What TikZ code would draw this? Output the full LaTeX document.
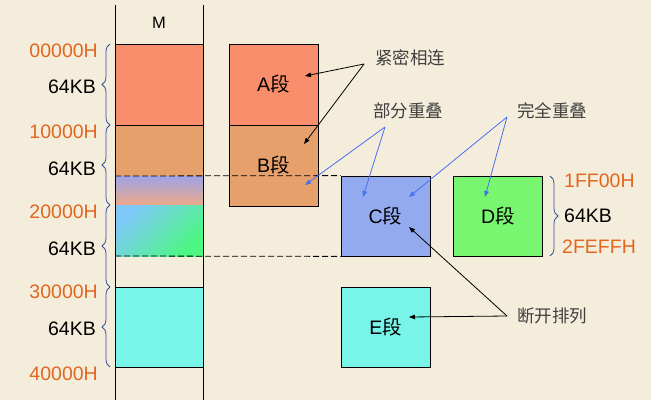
\documentclass[tikz,border=0pt]{standalone}
\usepackage{fontspec}
\setmainfont{Liberation Sans}
\newfontfamily\cjk{Noto Sans CJK SC}
\usetikzlibrary{arrows.meta,decorations.pathreplacing}

\definecolor{paper}{RGB}{245,237,220}
\definecolor{segA}{RGB}{249,142,108}
\definecolor{segB}{RGB}{229,160,108}
\definecolor{segC}{RGB}{148,170,238}
\definecolor{segD}{RGB}{120,246,112}
\definecolor{segE}{RGB}{120,244,232}
\definecolor{addrcol}{RGB}{226,102,30}
\definecolor{bracecol}{RGB}{48,80,160}
\definecolor{bluearrow}{RGB}{72,110,240}
\definecolor{notecol}{RGB}{64,64,64}

\begin{document}
\begin{tikzpicture}
        [%%%%%%%%%%%%%%%%%%%%%%%%%%%%%%
        x=1pt, y=-1pt,
        seg/.style={draw=black, line width=0.8pt, minimum width=89pt,
          minimum height=81pt, inner sep=0pt, font=\fontsize{19.5}{20}\selectfont},
        addr/.style={anchor=base east, inner sep=0pt, text=addrcol,
          font=\fontsize{19.5}{20}\selectfont},
        size/.style={anchor=base east, inner sep=0pt, font=\fontsize{19.5}{20}\selectfont},
        note/.style={inner sep=0pt, text=notecol, font=\cjk\fontsize{17.5}{18}\selectfont},
        tip/.style={-{Triangle[length=6pt,width=4.5pt]}, line width=0.8pt},
        curly/.style={decorate, decoration={brace, amplitude=8pt},
          draw=bracecol, line width=0.8pt},
        ]%%%%%%%%%%%%%%%%%%%%%%%%%%%%%%
        \useasboundingbox (0,0) rectangle (651,400);
        \fill[paper] (0,0) rectangle (651,400);

        % Memory column M
        \fill[segA] (115,44) rectangle (203,125);
        \fill[segB] (115,125) rectangle (203,176);
        \shade[top color={rgb,255:red,158;green,164;blue,230},
          bottom color={rgb,255:red,237;green,168;blue,138}] (115,176) rectangle (203,205);
        \shade[top color={rgb,255:red,128;green,200;blue,250},
          bottom color={rgb,255:red,76;green,248;blue,130}, shading angle=45]
          (115,205) rectangle (203,256);
        \fill[segE] (115,287) rectangle (203,367);
        \draw[line width=0.8pt] (115,5) -- (115,400);
        \draw[line width=0.8pt] (203,5) -- (203,400);
        \foreach \y in {44,125,287,367}{
          \draw[line width=0.8pt] (115,\y) -- (203,\y);
        }
        \node[font=\fontsize{16.5}{17}\selectfont] (M) at (159,23) {M};

        % Segments
        \node[seg, fill=segA] (A) at (273.5,84.5) {A{\cjk 段}};
        \node[seg, fill=segB] (B) at (273.5,165.5) {B{\cjk 段}};
        \node[seg, fill=segC, minimum height=80pt] (C) at (385.5,216) {C{\cjk 段}};
        \node[seg, fill=segD, minimum height=80pt] (D) at (498,216) {D{\cjk 段}};
        \node[seg, fill=segE, minimum height=80pt] (E) at (385.5,327) {E{\cjk 段}};

        % Lines
        \draw[dashed, line width=0.8pt, dash pattern=on 6pt off 3pt] (115,176) -- (C.north west);
        \draw[dashed, line width=0.8pt, dash pattern=on 6pt off 3pt] (115,256) -- (C.south west);

        % Braces
        \foreach \top/\bot in {44/125,125/205,205/287,287/367}{
          \draw[curly] (110,\bot) -- (110,\top);
        }
        \draw[curly] (550,176) -- (550,256);

        % Text
        \foreach \a/\y in {00000H/57,10000H/138,20000H/218,30000H/298,40000H/380}{
          \node[addr] (a\a) at (98,\y) {\a};
        }
        \foreach \y [count=\i] in {93,175,255,335}{
          \node[size] (kb\i) at (96,\y) {64KB};
        }
        \node[addr, anchor=base west] (lo) at (564,187) {1FF00H};
        \node[size, anchor=base west] (kbD) at (564,222) {64KB};
        \node[addr, anchor=base west] (hi) at (562,253) {2FEFFH};

        \node[note] (tight) at (410,57.5) {紧密相连};
        \node[note] (part) at (408,111) {部分重叠};
        \node[note] (full) at (552,110.5) {完全重叠};
        \node[note] (apart) at (552,316) {断开排列};

        % Arrows
        \coordinate (tightS) at (364,64);
        \coordinate (partS) at (385,127);
        \coordinate (fullS) at (507,117);
        \coordinate (apartS) at (507,316);
        \coordinate (inA) at (305,76);
        \coordinate (inB) at (304,144);
        \coordinate (inBC) at (305,185);
        \coordinate (inC1) at (363,197);
        \coordinate (inC2) at (409,197);
        \coordinate (inD) at (485,197);
        \coordinate (inC3) at (409,227);
        \coordinate (inE) at (409,317);
        \draw[tip] (tightS) -- (inA);
        \draw[tip] (tightS) -- (inB);
        \draw[tip, bluearrow] (partS) -- (inBC);
        \draw[tip, bluearrow] (partS) -- (inC1);
        \draw[tip, bluearrow] (fullS) -- (inC2);
        \draw[tip, bluearrow] (fullS) -- (inD);
        \draw[tip] (apartS) -- (inC3);
        \draw[tip] (apartS) -- (inE);
      \end{tikzpicture}
\end{document}
